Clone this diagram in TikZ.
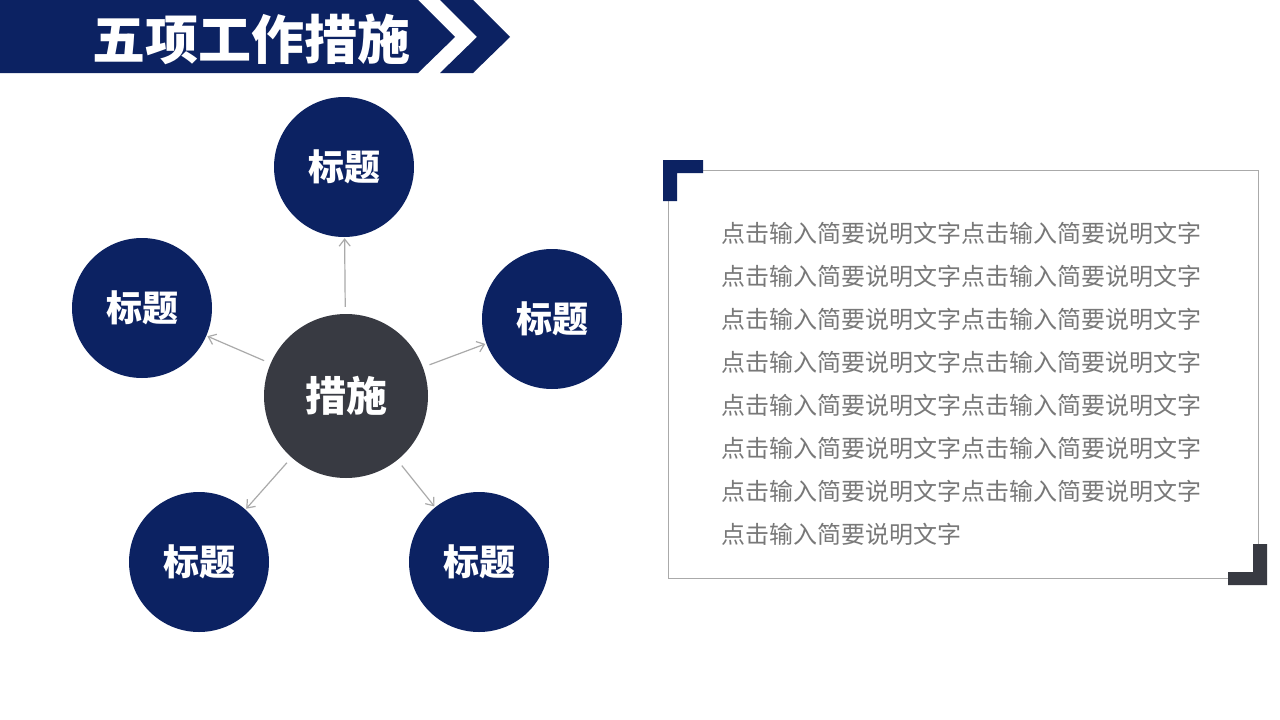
\documentclass[tikz,border=0pt]{standalone}
\usepackage{fontspec}
\setmainfont{Noto Sans CJK SC}
\newfontfamily\cjk{Noto Sans CJK SC}
\usetikzlibrary{arrows.meta}
\definecolor{navy}{RGB}{12,34,98}
\definecolor{darkg}{RGB}{56,58,66}
\definecolor{arrg}{RGB}{170,170,170}
\definecolor{txtg}{RGB}{120,120,120}
\definecolor{boxg}{RGB}{170,170,170}
\tikzset{
  outer/.style={circle,fill=navy,minimum size=140pt,inner sep=0pt,text=white,font=\cjk\bfseries\fontsize{36}{40}\selectfont},
  center/.style={circle,fill=darkg,minimum size=164pt,inner sep=0pt,text=white,font=\cjk\bfseries\fontsize{41}{46}\selectfont},
  arr/.style={draw=arrg,line width=1.2pt,-{Straight Barb[length=7pt,width=11pt,line width=1.2pt]},shorten <=7pt,shorten >=1pt},
  bodytxt/.style={anchor=base west,inner sep=0pt,text=txtg,font=\cjk\fontsize{24}{28}\selectfont}
}
\begin{document}
\begin{tikzpicture}[x=1pt,y=-1pt]
\useasboundingbox[fill=white] (0,0) rectangle (1280,720);
% header
\fill[navy] (0,0) -- (418,0) -- (455,37) -- (418,73) -- (0,73) -- cycle;
\fill[navy] (440,0) -- (473,0) -- (510,37) -- (473,73) -- (440,73) -- (477,37) -- cycle;
\node[text=white,font=\cjk\bfseries\fontsize{53}{60}\selectfont,inner sep=0pt] (title) at (251,39) {五项工作措施};
% circles
\node[center] (c) at (346,396) {措施};
\node[outer] (t) at (344,167) {标题};
\node[outer] (l) at (142,308) {标题};
\node[outer] (r) at (552,319) {标题};
\node[outer] (bl) at (199,562) {标题};
\node[outer] (br) at (479,562) {标题};
\draw[arr] (c) -- (t);
\draw[arr] (c) -- (l);
\draw[arr] (c) -- (r);
\draw[arr] (c) -- (bl);
\draw[arr] (c) -- (br);
% text box
\draw[boxg,line width=1pt] (668,170) rectangle (1258,578);
\fill[navy] (663,160) -- (703,160) -- (703,173) -- (677,173) -- (677,201) -- (663,201) -- cycle;
\fill[darkg] (1267,585) -- (1228,585) -- (1228,572) -- (1253,572) -- (1253,544) -- (1267,544) -- cycle;
\foreach \i in {0,...,6} {
  \node[bodytxt] (line\i) at (721,242+43*\i) {点击输入简要说明文字点击输入简要说明文字};
}
\node[bodytxt] (line7) at (721,543) {点击输入简要说明文字};
\end{tikzpicture}
\end{document}
